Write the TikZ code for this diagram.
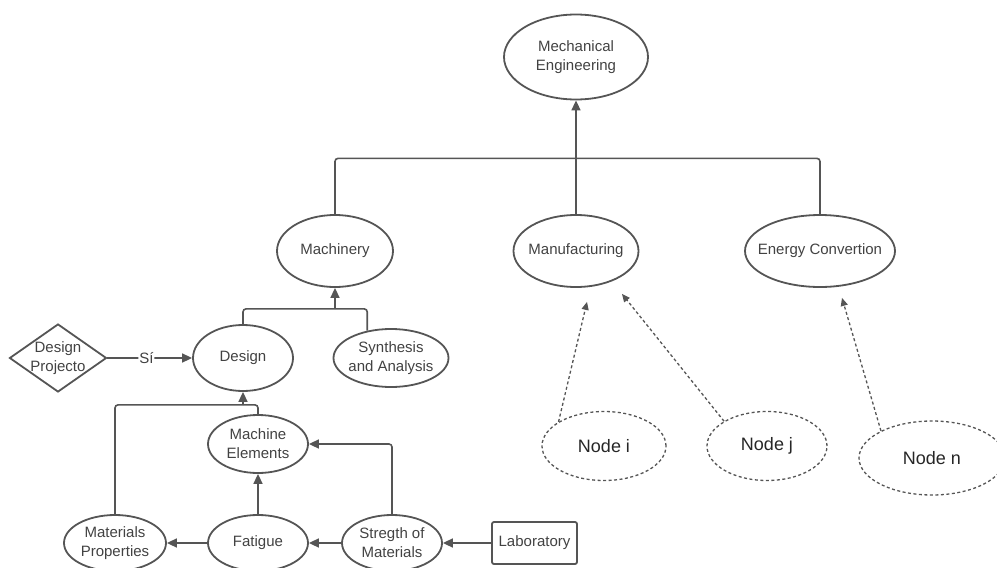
\documentclass[tikz,border=0pt]{standalone}
\usepackage{fontspec}
\setmainfont{Liberation Sans}
\usetikzlibrary{arrows.meta,shapes.geometric,calc}
\definecolor{ln}{HTML}{555555}
\definecolor{tx}{HTML}{424242}
\definecolor{dtx}{HTML}{262626}
\begin{document}
\begin{tikzpicture}[x=1pt,y=-1pt,
  lbl/.style={font=\fontsize{15}{19}\selectfont, text=tx, align=center},
  nlbl/.style={font=\fontsize{18}{22}\selectfont, text=dtx, align=center},
  ell/.style={ellipse, draw=ln, line width=1.8pt, inner sep=0pt},
  dell/.style={ellipse, draw=ln, line width=1.3pt, dash pattern=on 3pt off 2.5pt, inner sep=0pt},
  conn/.style={draw=ln, line width=1.6pt, rounded corners=3pt},
  arr/.style={conn, -{Triangle[length=10pt,width=9pt]}},
  darr/.style={draw=ln, line width=1.3pt, dash pattern=on 3pt off 2.5pt, -{Triangle[length=8pt,width=7pt]}}
]
\useasboundingbox (0,0) rectangle (997,568);

% top level
\node[ell, minimum width=144pt, minimum height=85pt, label={[lbl]center:Mechanical\\Engineering}] (me) at (576,57) {};
\node[ell, minimum width=116pt, minimum height=72pt, label={[lbl]center:Machinery}] (mach) at (335,251) {};
\node[ell, minimum width=125pt, minimum height=72pt, label={[lbl]center:Manufacturing}] (manu) at (576,251) {};
\node[ell, minimum width=150pt, minimum height=72pt, label={[lbl]center:Energy Convertion}] (ec) at (820,251) {};

% design level
\node[diamond, draw=ln, line width=1.8pt, inner sep=0pt, minimum width=97pt, minimum height=68pt, label={[lbl]center:Design\\Projecto}] (dp) at (58,358) {};
\node[ell, minimum width=100pt, minimum height=66pt, label={[lbl]center:Design}] (des) at (243,358) {};
\node[ell, minimum width=115pt, minimum height=58pt, label={[lbl]center:Synthesis\\and Analysis}] (syn) at (391,358) {};

% lower level
\node[ell, minimum width=100pt, minimum height=58pt, label={[lbl]center:Machine\\Elements}] (mel) at (258,444) {};
\node[ell, minimum width=102pt, minimum height=56pt, label={[lbl]center:Materials\\Properties}] (mp) at (115,543) {};
\node[ell, minimum width=100pt, minimum height=56pt, label={[lbl]center:Fatigue}] (fat) at (258,543) {};
\node[ell, minimum width=100pt, minimum height=56pt, label={[lbl]center:Stregth of\\Materials}] (str) at (392,543) {};
\node[draw=ln, line width=1.8pt, rounded corners=2pt, minimum width=85pt, minimum height=42pt, inner sep=0pt, label={[lbl]center:Laboratory}] (lab) at (534.5,543) {};

% dashed nodes
\node[dell, minimum width=124pt, minimum height=69pt, label={[nlbl]center:Node i}] (ni) at (604,446) {};
\node[dell, minimum width=120pt, minimum height=69pt, label={[nlbl]center:Node j}] (nj) at (767,446) {};
\node[dell, minimum width=146pt, minimum height=74pt, label={[nlbl]center:Node n}] (nn) at (932,458) {};

% top tree connectors
\coordinate (hub) at ($(me.south)+(0,58)$);
\draw[conn] (mach.north) |- (hub) -| (ec.north);
\draw[conn] (manu.north) -- (hub);
\draw[arr] (hub) -- (me.south);

% design -> machinery
\coordinate (j1) at ($(mach.south)+(0,21)$);
\draw[conn] (des.north) |- (j1);
\draw[conn] (syn.131) |- (j1);
\draw[arr] (j1) -- (mach.south);

% design projecto -> design
\draw[arr] (dp.east) -- node[lbl, fill=white, inner sep=1pt, pos=0.46] (si) {Sí} (des.west);

% into design from below
\coordinate (j2) at ($(des.south)+(0,13)$);
\draw[conn] (mp.north) |- (j2);
\draw[conn] (mel.north) |- (j2);
\draw[arr] (j2) -- (des.south);

% bottom row
\draw[arr] (lab.west) -- (str.east);
\draw[arr] (str.west) -- (fat.east);
\draw[arr] (fat.west) -- (mp.east);
\draw[arr] (fat.north) -- (mel.south);
\draw[arr] (str.north) |- (mel.east);

% dashed arrows
\coordinate (ti) at ($(manu.south)+(11,14)$);
\coordinate (tj) at ($(manu.south)+(46,6)$);
\coordinate (tn) at ($(ec.south)+(22,10)$);
\draw[darr] (ni.152) -- (ti);
\draw[darr] (nj.150) -- (tj);
\draw[darr] (nn.152) -- (tn);
\end{tikzpicture}
\end{document}
